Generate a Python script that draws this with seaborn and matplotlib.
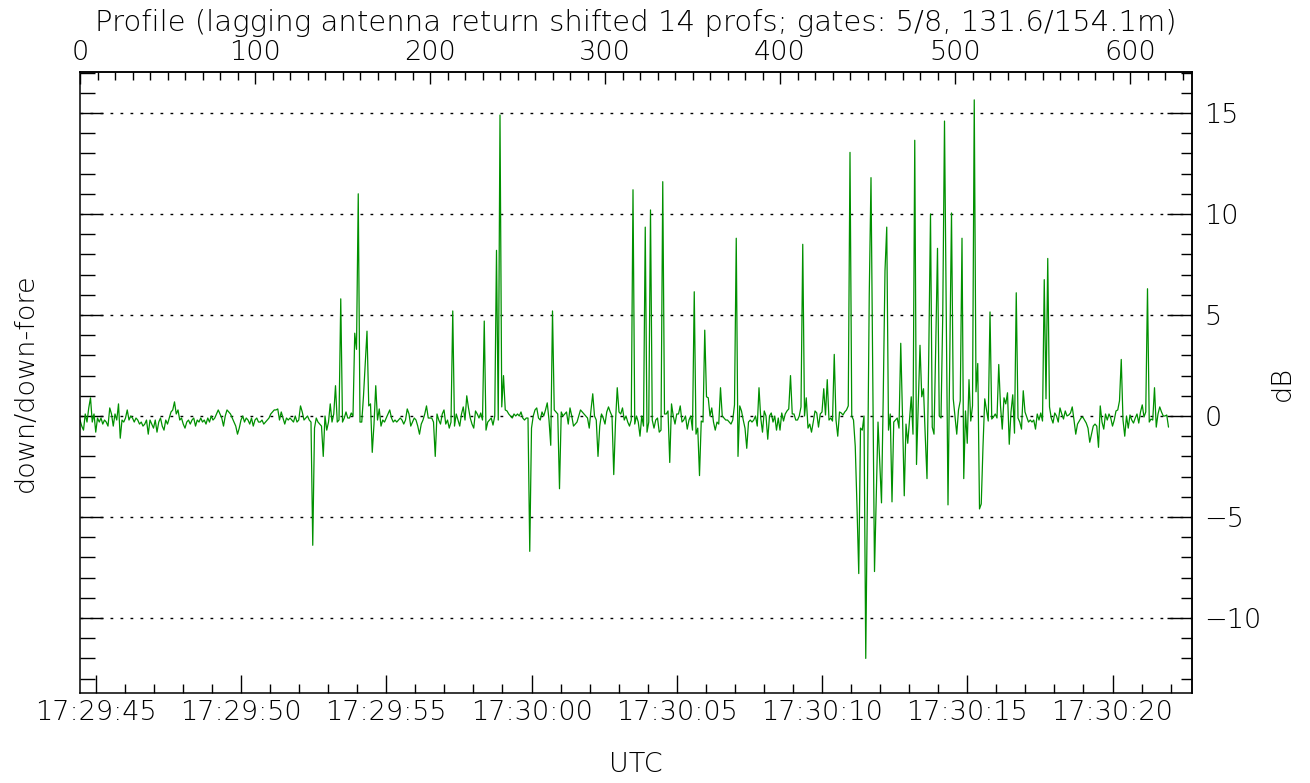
import numpy as np
import pandas as pd
import matplotlib
matplotlib.use("Agg")
import matplotlib.pyplot as plt
import seaborn as sns
from matplotlib.ticker import MultipleLocator, FixedLocator, NullFormatter

# down/down-fore ratio in dB, one value per profile
db_000 = [-0.2, -0.5, -0.7, 0.1, -0.3, 0.4, 0.9, -0.3, 0.1, -0.8,
          -0.1, -0.3, -0.1, -0.4, -0.2, -0.3, -0.5, 0.4, 0.1, -0.5,
          0.1, -0.2, 0.6, -1.1, -0.2, -0.3, -0.1, 0.3, -0.2, 0.0,
          -0.1, -0.3, -0.1, -0.2, -0.4, -0.3, -0.5, -0.4, -0.2, -0.9,
          -0.2, -0.4, -0.6, -0.2, -0.8, -0.3, -0.1, -0.5, -0.7, -0.2,
          -0.4, -0.1, 0.2, 0.3, 0.7, 0.1, 0.3, -0.2, -0.1, -0.4,
          -0.6, -0.3, -0.2, -0.4, -0.2, -0.1, -0.5, -0.2, -0.3, -0.1,
          -0.3, -0.2, -0.4, -0.1, -0.3, 0.0, -0.2, -0.1, 0.1, 0.3,
          0.1, -0.1, -0.5, 0.0, 0.3, 0.2, 0.1, -0.1, -0.3, -0.5,
          -0.9, -0.6, -0.2, 0.0, -0.3, -0.1, -0.2, -0.4, -0.1, -0.5]
db_100 = [-0.2, -0.1, -0.3, -0.3, -0.2, -0.4, -0.3, -0.2, -0.1, 0.1,
          0.2, 0.3, 0.3, 0.35, -0.2, 0.2, -0.1, -0.4, -0.1, -0.2,
          -0.1, -0.2, -0.3, 0.0, -0.3, -0.2, 0.5, 0.2, -0.2, -0.1,
          0.0, -0.2, -0.3, -6.4, -0.6, -0.1, -0.3, -0.4, -0.5, -2.0,
          0.0, -0.7, -0.3, 0.6, -0.3, 0.1, 1.5, -0.3, -0.2, 5.8,
          -0.3, -0.1, 0.2, -0.1, -0.1, 0.15, 0.0, 4.1, 3.3, 11.0,
          -0.3, -0.3, 1.0, 2.6, 4.2, 0.5, 0.6, -1.8, -0.4, 1.5,
          -0.2, 0.35, -0.5, -0.2, -0.3, -0.1, 0.1, 0.3, -0.1, -0.3,
          -0.2, -0.3, -0.2, -0.1, -0.2, -0.4, -0.2, 0.35, 0.1, -0.5,
          -0.3, -0.1, -0.2, -0.5, -0.9, -0.4, -0.2, 0.1, 0.5, -0.1]
db_200 = [-0.1, -0.1, -0.3, -2.0, 0.1, -0.2, -0.4, 0.1, 0.3, -0.4,
          -0.2, -0.6, -0.3, 5.2, -0.5, 0.1, -0.2, -0.5, 0.1, 0.45,
          -0.2, 1.0, 0.4, -0.1, -0.4, -0.6, 0.25, 0.1, -0.1, 0.15,
          -0.2, 4.7, -0.7, -0.3, -0.2, -0.1, -0.45, 0.0, 8.2, -0.2,
          14.9, 0.45, 2.0, 0.3, 0.25, 0.1, 0.0, -0.1, 0.1, 0.0,
          0.1, 0.0, 0.2, -0.1, -0.2, -0.1, -0.1, -6.7, -0.6, 0.0,
          0.3, 0.4, -0.1, -0.2, 0.2, 0.0, 0.3, 0.65, -0.2, -1.45,
          5.2, 0.3, 0.2, 0.1, -3.6, 0.2, 0.0, 0.1, 0.2, -0.4,
          0.4, 0.0, -0.5, -0.4, -0.3, 0.0, 0.3, 0.2, 0.1, 0.0,
          -0.1, -0.6, 0.3, 1.1, 0.0, -0.2, -2.0, -0.5, 0.1, -0.1]
db_300 = [-0.4, 0.2, 0.45, 0.2, 0.0, -2.9, -0.3, 1.4, 0.2, 0.1,
          0.4, -0.2, 0.0, -0.3, -0.5, -0.2, 11.2, -0.4, 0.0, -0.3,
          -1.0, 0.0, -0.5, 9.35, -0.8, -0.3, 10.2, -0.2, -0.6, -0.2,
          -0.1, -0.8, -0.7, 11.6, 0.1, 0.1, 0.25, -2.3, 0.6, 0.0,
          -0.4, 0.1, 0.1, 0.5, -0.3, -0.2, 0.0, -0.65, -0.2, 0.0,
          -0.7, 6.15, -0.9, -0.6, -2.95, -0.25, -0.3, 4.25, 0.95, 0.9,
          0.0, 0.4, -0.3, -0.7, -0.3, -0.4, 1.4, 0.0, -0.1, -0.2,
          -0.2, -0.3, -0.4, -0.2, 0.55, 8.8, -2.0, 0.5, 0.25, -0.2,
          -0.6, -1.6, -0.3, -0.2, -0.3, -0.2, 0.0, -0.5, 1.4, -0.1,
          -0.8, 0.25, 0.0, -1.15, 0.0, 0.15, -0.3, 0.0, -0.7, -0.1]
db_400 = [-0.7, 0.15, -0.25, 0.1, 0.25, 0.35, 2.0, 0.1, 0.1, -0.2,
          -0.2, 0.0, 0.45, 8.5, 0.0, 0.9, -0.6, -0.4, -0.8, -0.3,
          0.25, 0.15, -0.55, 0.1, 0.2, 1.35, 0.05, 1.8, -0.2, -0.1,
          -0.25, 3.05, -0.2, -1.0, 0.2, 0.15, 0.05, 0.2, 0.3, 0.5,
          13.05, 0.0, -0.2, -1.5, -4.5, -7.8, -0.6, -0.7, 0.0, -12.0,
          -3.5, 6.0, 11.8, 2.0, -7.7, -4.0, -0.3, -2.3, -4.3, 1.0,
          7.2, 9.35, -0.7, 0.1, -4.25, -0.3, -0.2, -0.1, -0.6, 3.6,
          0.0, -3.95, -0.4, -1.35, -0.2, 0.95, -0.9, 13.65, -2.4, 0.5,
          3.5, 0.95, 1.35, -1.0, -3.1, 3.0, 10.0, -0.55, -0.9, 3.5,
          8.3, 0.0, -0.1, 5.0, 14.6, 5.0, -4.4, 3.0, 10.05, 0.85]
db_500 = [0.0, -0.9, 0.3, 0.75, 8.8, -3.1, 0.25, -1.35, 1.8, -0.25,
          0.5, 15.65, 1.2, 2.6, -4.6, -4.35, -1.5, 0.85, 0.3, -0.25,
          5.15, -0.15, -0.05, 0.1, -0.1, 2.55, 0.5, -0.65, 0.9, 0.6,
          1.15, -1.4, 0.2, 1.05, -0.85, 6.1, -0.1, -0.3, -0.65, 1.25,
          0.2, -0.05, -0.3, -0.2, -0.3, -0.2, -0.65, 0.1, -0.2, 0.15,
          -0.25, 6.75, 0.85, 7.8, 0.45, -0.1, -0.35, 0.15, 0.0, -0.3,
          0.4, 0.1, -0.15, 0.25, 0.0, 0.05, 0.15, 0.45, -0.2, -0.9,
          -0.4, -0.25, -0.1, -0.05, -0.2, -0.35, -0.6, -1.3, -0.9, -0.5,
          -0.4, -0.5, -1.55, 0.5, -0.3, -0.65, 0.1, -0.2, 0.1, -0.1,
          -0.5, -0.2, 0.25, 0.3, 0.75, 2.8, -0.2, -1.0, 0.0, -0.6]
db_600 = [0.05, -0.2, -0.35, -0.1, 0.1, -0.35, 0.2, 0.55, -0.05, 0.2,
          6.3, -0.3, -0.15, -0.2, 1.4, -0.55, 0.1, 0.45, 0.2, 0.0,
          0.0, 0.05, -0.55]

profile_ticks = [0, 100, 200, 300, 400, 500, 600]
db_ticks = [-10, -5, 0, 5, 10, 15]
db_labels = ["\u221210", "\u22125", "0", "5", "10", "15"]
time_labels = ["17:29:45", "17:29:50", "17:29:55", "17:30:00",
               "17:30:05", "17:30:10", "17:30:15", "17:30:20"]
title = "Profile (lagging antenna return shifted 14 profs; gates: 5/8, 131.6/154.1m)"

# timing: 17:29:45 falls on profile 9, about 16.6 profiles per second
prof_at_first = 9.0
prof_per_sec = 16.6

values = db_000 + db_100 + db_200 + db_300 + db_400 + db_500 + db_600
df = pd.DataFrame({"profile": np.arange(len(values)), "dB": values})

sns.set_style("ticks")
plt.rcParams["font.family"] = ["DejaVu Sans"]
plt.rcParams["font.weight"] = "light"
plt.rcParams["text.color"] = "black"
plt.rcParams["xtick.color"] = "black"
plt.rcParams["ytick.color"] = "black"
plt.rcParams["axes.edgecolor"] = "black"
fs = 19.5
fs_title = 21

fig = plt.figure(figsize=(13.10, 7.83), dpi=100)
ax = fig.add_axes([80 / 1310, 1 - 693 / 783, 1112 / 1310, 621 / 783])

sns.lineplot(data=df, x="profile", y="dB", color="#009000", linewidth=0.9, ax=ax)

ax.set_xlim(0, 1112 / 1.75)
ax.set_ylim((416 - 693) / 20.2, (416 - 72) / 20.2)
ax.set_xlabel("")
ax.set_ylabel("")

for s in ax.spines.values():
    s.set_color("black")
    s.set_linewidth(1.1)

# bottom axis: UTC
sec_major = np.arange(0, 5 * len(time_labels), 5)
sec_minor = np.arange(0, 5 * len(time_labels) - 2)
ax.xaxis.set_major_locator(FixedLocator(prof_at_first + prof_per_sec * sec_major))
ax.xaxis.set_minor_locator(FixedLocator(prof_at_first + prof_per_sec * sec_minor))
ax.set_xticklabels(time_labels)
ax.tick_params(axis="x", which="both", bottom=True, top=False)
ax.tick_params(axis="x", which="major", direction="in", length=13, width=1,
               labelsize=fs, pad=5, colors="black")
ax.tick_params(axis="x", which="minor", direction="in", length=6.5, width=1)

# left axis: unlabelled ticks
ax.yaxis.set_major_locator(FixedLocator(db_ticks))
ax.yaxis.set_minor_locator(MultipleLocator(1))
ax.yaxis.set_major_formatter(NullFormatter())
ax.tick_params(axis="y", which="both", left=True, right=False)
ax.tick_params(axis="y", which="major", direction="in", length=16.5, width=1)
ax.tick_params(axis="y", which="minor", direction="in", length=10.8, width=1)
ax.yaxis.grid(True, which="major", color="black", linewidth=1,
              linestyle=(0, (2, 5.2)))
ax.xaxis.grid(False)

# top axis: profile number
top = ax.secondary_xaxis("top")
top.xaxis.set_major_locator(FixedLocator(profile_ticks))
top.xaxis.set_minor_locator(MultipleLocator(10))
top.tick_params(which="major", direction="in", length=8.6, width=1,
                labelsize=fs, pad=5, colors="black")
top.tick_params(which="minor", direction="in", length=5.8, width=1)
top.spines["top"].set_linewidth(1.1)

# right axis: dB
right = ax.secondary_yaxis("right")
right.yaxis.set_major_locator(FixedLocator(db_ticks))
right.yaxis.set_minor_locator(MultipleLocator(1))
right.set_yticklabels(db_labels)
right.tick_params(which="major", direction="in", length=18, width=1,
                  labelsize=fs, pad=9, colors="black")
right.tick_params(which="minor", direction="in", length=8, width=1)
right.spines["right"].set_linewidth(1.1)

fig.text(636 / 1310, 1 - 31 / 783, title, ha="center", va="baseline",
         fontsize=fs_title)
fig.text(25 / 1310, 1 - 383 / 783, "down/down-fore", rotation=90,
         ha="center", va="center", fontsize=fs)
fig.text(1282 / 1310, 1 - 383 / 783, "dB", rotation=90,
         ha="center", va="center", fontsize=fs)
fig.text(636 / 1310, 1 - 765 / 783, "UTC", ha="center", va="center", fontsize=fs)

fig.savefig("out.png", dpi=100, facecolor="white")
